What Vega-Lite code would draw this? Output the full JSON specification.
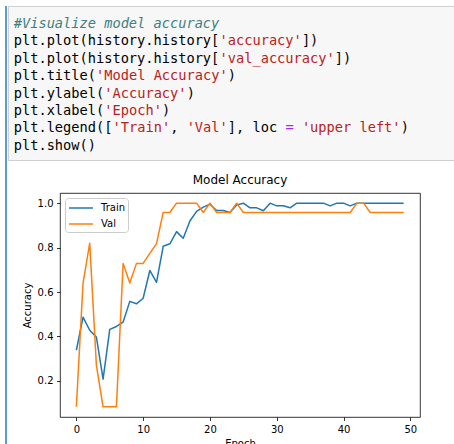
{
  "$schema": "https://vega.github.io/schema/vega-lite/v6.json",
  "padding": {"left": 5, "top": 5, "right": 0, "bottom": 0},
  "background": "white",
  "config": {"view": {"stroke": null}},
  "datasets": {
    "code": [
      {"line": 0, "col": 0, "text": "#Visualize model accuracy", "kind": "comment"},
      {"line": 1, "col": 0, "text": "plt.plot(history.history[", "kind": "code"},
      {"line": 1, "col": 25, "text": "'accuracy'", "kind": "string"},
      {"line": 1, "col": 35, "text": "])", "kind": "code"},
      {"line": 2, "col": 0, "text": "plt.plot(history.history[", "kind": "code"},
      {"line": 2, "col": 25, "text": "'val_accuracy'", "kind": "string"},
      {"line": 2, "col": 39, "text": "])", "kind": "code"},
      {"line": 3, "col": 0, "text": "plt.title(", "kind": "code"},
      {"line": 3, "col": 10, "text": "'Model Accuracy'", "kind": "string"},
      {"line": 3, "col": 26, "text": ")", "kind": "code"},
      {"line": 4, "col": 0, "text": "plt.ylabel(", "kind": "code"},
      {"line": 4, "col": 11, "text": "'Accuracy'", "kind": "string"},
      {"line": 4, "col": 21, "text": ")", "kind": "code"},
      {"line": 5, "col": 0, "text": "plt.xlabel(", "kind": "code"},
      {"line": 5, "col": 11, "text": "'Epoch'", "kind": "string"},
      {"line": 5, "col": 18, "text": ")", "kind": "code"},
      {"line": 6, "col": 0, "text": "plt.legend([", "kind": "code"},
      {"line": 6, "col": 12, "text": "'Train'", "kind": "string"},
      {"line": 6, "col": 19, "text": ",", "kind": "code"},
      {"line": 6, "col": 21, "text": "'Val'", "kind": "string"},
      {"line": 6, "col": 26, "text": "], loc", "kind": "code"},
      {"line": 6, "col": 33, "text": "=", "kind": "op"},
      {"line": 6, "col": 35, "text": "'upper left'", "kind": "string"},
      {"line": 6, "col": 47, "text": ")", "kind": "code"},
      {"line": 7, "col": 0, "text": "plt.show()", "kind": "code"}
    ],
    "history": [
      {"epoch": 0, "series": "Train", "acc": 0.338},
      {"epoch": 1, "series": "Train", "acc": 0.487},
      {"epoch": 2, "series": "Train", "acc": 0.428},
      {"epoch": 3, "series": "Train", "acc": 0.397},
      {"epoch": 4, "series": "Train", "acc": 0.208},
      {"epoch": 5, "series": "Train", "acc": 0.432},
      {"epoch": 6, "series": "Train", "acc": 0.445},
      {"epoch": 7, "series": "Train", "acc": 0.465},
      {"epoch": 8, "series": "Train", "acc": 0.558},
      {"epoch": 9, "series": "Train", "acc": 0.547},
      {"epoch": 10, "series": "Train", "acc": 0.572},
      {"epoch": 11, "series": "Train", "acc": 0.697},
      {"epoch": 12, "series": "Train", "acc": 0.644},
      {"epoch": 13, "series": "Train", "acc": 0.806},
      {"epoch": 14, "series": "Train", "acc": 0.817},
      {"epoch": 15, "series": "Train", "acc": 0.872},
      {"epoch": 16, "series": "Train", "acc": 0.842},
      {"epoch": 17, "series": "Train", "acc": 0.92},
      {"epoch": 18, "series": "Train", "acc": 0.963},
      {"epoch": 19, "series": "Train", "acc": 0.982},
      {"epoch": 20, "series": "Train", "acc": 0.995},
      {"epoch": 21, "series": "Train", "acc": 0.967},
      {"epoch": 22, "series": "Train", "acc": 0.967},
      {"epoch": 23, "series": "Train", "acc": 0.958},
      {"epoch": 24, "series": "Train", "acc": 0.992},
      {"epoch": 25, "series": "Train", "acc": 1.0},
      {"epoch": 26, "series": "Train", "acc": 0.979},
      {"epoch": 27, "series": "Train", "acc": 0.979},
      {"epoch": 28, "series": "Train", "acc": 0.966},
      {"epoch": 29, "series": "Train", "acc": 1.0},
      {"epoch": 30, "series": "Train", "acc": 0.988},
      {"epoch": 31, "series": "Train", "acc": 0.988},
      {"epoch": 32, "series": "Train", "acc": 0.979},
      {"epoch": 33, "series": "Train", "acc": 1.0},
      {"epoch": 34, "series": "Train", "acc": 1.0},
      {"epoch": 35, "series": "Train", "acc": 1.0},
      {"epoch": 36, "series": "Train", "acc": 1.0},
      {"epoch": 37, "series": "Train", "acc": 1.0},
      {"epoch": 38, "series": "Train", "acc": 0.988},
      {"epoch": 39, "series": "Train", "acc": 1.0},
      {"epoch": 40, "series": "Train", "acc": 1.0},
      {"epoch": 41, "series": "Train", "acc": 0.988},
      {"epoch": 42, "series": "Train", "acc": 1.0},
      {"epoch": 43, "series": "Train", "acc": 1.0},
      {"epoch": 44, "series": "Train", "acc": 1.0},
      {"epoch": 45, "series": "Train", "acc": 1.0},
      {"epoch": 46, "series": "Train", "acc": 1.0},
      {"epoch": 47, "series": "Train", "acc": 1.0},
      {"epoch": 48, "series": "Train", "acc": 1.0},
      {"epoch": 49, "series": "Train", "acc": 1.0},
      {"epoch": 0, "series": "Val", "acc": 0.0833},
      {"epoch": 1, "series": "Val", "acc": 0.64},
      {"epoch": 2, "series": "Val", "acc": 0.82},
      {"epoch": 3, "series": "Val", "acc": 0.27},
      {"epoch": 4, "series": "Val", "acc": 0.0833},
      {"epoch": 5, "series": "Val", "acc": 0.0833},
      {"epoch": 6, "series": "Val", "acc": 0.0833},
      {"epoch": 7, "series": "Val", "acc": 0.729},
      {"epoch": 8, "series": "Val", "acc": 0.641},
      {"epoch": 9, "series": "Val", "acc": 0.729},
      {"epoch": 10, "series": "Val", "acc": 0.729},
      {"epoch": 11, "series": "Val", "acc": 0.774},
      {"epoch": 12, "series": "Val", "acc": 0.818},
      {"epoch": 13, "series": "Val", "acc": 0.9583},
      {"epoch": 14, "series": "Val", "acc": 0.9583},
      {"epoch": 15, "series": "Val", "acc": 1.0},
      {"epoch": 16, "series": "Val", "acc": 1.0},
      {"epoch": 17, "series": "Val", "acc": 1.0},
      {"epoch": 18, "series": "Val", "acc": 1.0},
      {"epoch": 19, "series": "Val", "acc": 0.9583},
      {"epoch": 20, "series": "Val", "acc": 1.0},
      {"epoch": 21, "series": "Val", "acc": 0.9583},
      {"epoch": 22, "series": "Val", "acc": 0.9583},
      {"epoch": 23, "series": "Val", "acc": 0.9583},
      {"epoch": 24, "series": "Val", "acc": 1.0},
      {"epoch": 25, "series": "Val", "acc": 0.9583},
      {"epoch": 26, "series": "Val", "acc": 0.9583},
      {"epoch": 27, "series": "Val", "acc": 0.9583},
      {"epoch": 28, "series": "Val", "acc": 0.9583},
      {"epoch": 29, "series": "Val", "acc": 0.9583},
      {"epoch": 30, "series": "Val", "acc": 0.9583},
      {"epoch": 31, "series": "Val", "acc": 0.9583},
      {"epoch": 32, "series": "Val", "acc": 0.9583},
      {"epoch": 33, "series": "Val", "acc": 0.9583},
      {"epoch": 34, "series": "Val", "acc": 0.9583},
      {"epoch": 35, "series": "Val", "acc": 0.9583},
      {"epoch": 36, "series": "Val", "acc": 0.9583},
      {"epoch": 37, "series": "Val", "acc": 0.9583},
      {"epoch": 38, "series": "Val", "acc": 0.9583},
      {"epoch": 39, "series": "Val", "acc": 0.9583},
      {"epoch": 40, "series": "Val", "acc": 0.9583},
      {"epoch": 41, "series": "Val", "acc": 0.9583},
      {"epoch": 42, "series": "Val", "acc": 1.0},
      {"epoch": 43, "series": "Val", "acc": 1.0},
      {"epoch": 44, "series": "Val", "acc": 0.9583},
      {"epoch": 45, "series": "Val", "acc": 0.9583},
      {"epoch": 46, "series": "Val", "acc": 0.9583},
      {"epoch": 47, "series": "Val", "acc": 0.9583},
      {"epoch": 48, "series": "Val", "acc": 0.9583},
      {"epoch": 49, "series": "Val", "acc": 0.9583}
    ]
  },
  "spacing": 0,
  "resolve": {"scale": {"color": "independent"}, "legend": {"color": "independent"}},
  "hconcat": [
    {
      "width": 2,
      "height": 460,
      "data": {"values": []},
      "mark": "point",
      "view": {"fill": "#5b9bd8", "stroke": null}
    },
    {
      "spacing": 12,
      "resolve": {"scale": {"color": "independent"}, "legend": {"color": "independent"}},
      "vconcat": [
        {
          "width": 447,
          "height": 154,
          "view": {"fill": "#f7f7f7", "stroke": "#cfcfcf", "strokeWidth": 1},
          "data": {"name": "code"},
          "encoding": {
            "x": {"field": "col", "type": "quantitative", "scale": {"domain": [-0.7, 53.6], "nice": false, "zero": false}, "axis": null},
            "y": {"field": "line", "type": "quantitative", "scale": {"domain": [-1.03, 7.82], "nice": false, "zero": false, "reverse": true}, "axis": null},
            "text": {"field": "text"},
            "color": {"field": "kind", "type": "nominal", "scale": {"domain": ["code", "string", "comment", "op"], "range": ["#000000", "#ba2121", "#408080", "#aa22ff"]}, "legend": null}
          },
          "layer": [
            {
              "transform": [{"filter": "datum.kind !== 'comment'"}],
              "mark": {"type": "text", "align": "left", "baseline": "middle", "font": "DejaVu Sans Mono", "fontSize": 13.67}
            },
            {
              "transform": [{"filter": "datum.kind === 'comment'"}],
              "mark": {"type": "text", "align": "left", "baseline": "middle", "font": "DejaVu Sans Mono", "fontSize": 13.67, "fontStyle": "italic"}
            }
          ]
        },
        {
          "spacing": 12,
          "resolve": {"scale": {"color": "independent"}, "legend": {"color": "independent"}},
          "hconcat": [
            {
              "width": 1,
              "height": 224,
              "data": {"values": []},
              "mark": "point",
              "view": {"stroke": null}
            },
            {
              "width": 360,
              "height": 224,
              "data": {"name": "history"},
              "title": {"text": "Model Accuracy", "font": "DejaVu Sans", "fontSize": 12, "fontWeight": "normal", "color": "#000000", "offset": 6},
              "view": {"stroke": "#000000", "strokeWidth": 0.8, "fill": "white"},
              "mark": {"type": "line", "strokeWidth": 1.5, "strokeJoin": "round"},
              "encoding": {
                "x": {
                  "field": "epoch", "type": "quantitative",
                  "scale": {"domain": [-2.45, 51.45], "nice": false, "zero": false},
                  "axis": {"values": [0, 10, 20, 30, 40, 50], "format": "d", "title": "Epoch", "grid": false, "domain": false,
                    "tickSize": 3.5, "tickWidth": 0.8, "tickColor": "#000000", "labelFlush": false,
                    "labelFont": "DejaVu Sans", "labelFontSize": 10, "labelColor": "#000000", "labelPadding": 3.5,
                    "titleFont": "DejaVu Sans", "titleFontSize": 10, "titleFontWeight": "normal", "titleColor": "#000000", "titlePadding": 4}
                },
                "y": {
                  "field": "acc", "type": "quantitative",
                  "scale": {"domain": [0.0375, 1.0458], "nice": false, "zero": false},
                  "axis": {"values": [0.2, 0.4, 0.6, 0.8, 1.0], "format": ".1f", "title": "Accuracy", "grid": false, "domain": false,
                    "tickSize": 3.5, "tickWidth": 0.8, "tickColor": "#000000", "labelFlush": false,
                    "labelFont": "DejaVu Sans", "labelFontSize": 10, "labelColor": "#000000", "labelPadding": 3.5,
                    "titleFont": "DejaVu Sans", "titleFontSize": 10, "titleFontWeight": "normal", "titleColor": "#000000", "titlePadding": 5}
                },
                "color": {
                  "field": "series", "type": "nominal",
                  "scale": {"domain": ["Train", "Val"], "range": ["#1f77b4", "#ff7f0e"]},
                  "legend": {"title": null, "orient": "top-left", "offset": 5, "fillColor": "white", "strokeColor": "#cccccc",
                    "cornerRadius": 3, "padding": 3, "symbolType": "M-1,0H3", "symbolSize": 144, "symbolStrokeWidth": 1.5,
                    "labelFont": "DejaVu Sans", "labelFontSize": 10, "labelColor": "#000000", "labelOffset": 19, "rowPadding": 4}
                }
              }
            }
          ]
        }
      ]
    }
  ]
}
